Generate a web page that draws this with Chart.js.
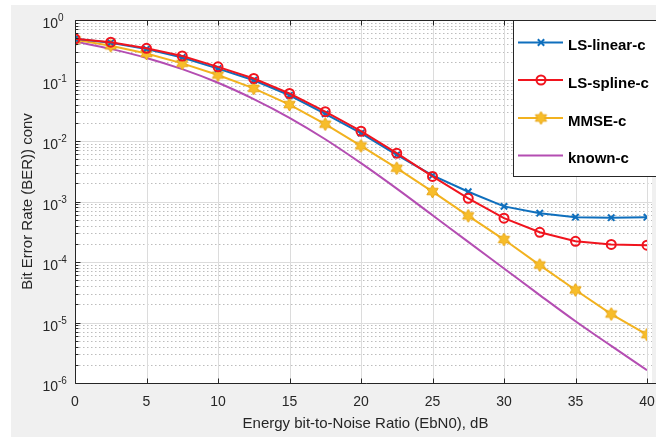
<!DOCTYPE html>
<html lang="en">
<head>
    <meta charset="UTF-8">
    <title>BER vs EbN0</title>
    <style>
        html, body {
            margin: 0;
            padding: 0;
            background-color: #fff;
            overflow: hidden;
        }
        canvas {
            display: block;
        }
    </style>
    <script src="https://cdn.jsdelivr.net/npm/chart.js"></script>
</head>
<body>
    <canvas id="berChart" width="656" height="437"></canvas>
    <script>
        // x axis: Eb/N0 in dB (markers every 2.5 dB)
        const snrDb = [0, 2.5, 5, 7.5, 10, 12.5, 15, 17.5, 20, 22.5, 25, 27.5, 30, 32.5, 35, 37.5, 40];

        const lsLinear = [0.49, 0.42, 0.33, 0.24, 0.157, 0.101, 0.057, 0.028, 0.0135, 0.0059, 0.0027,
            0.00145, 0.00083, 0.00064, 0.00055, 0.00054, 0.00055];
        const lsSpline = [0.49, 0.43, 0.34, 0.254, 0.168, 0.108, 0.061, 0.0305, 0.0145, 0.0063, 0.0026,
            0.00113, 0.00053, 0.00031, 0.00022, 0.000195, 0.00019];
        const mmse = [0.47, 0.375, 0.28, 0.192, 0.123, 0.074, 0.040, 0.019, 0.0083, 0.00355, 0.00146,
            0.00058, 0.000235, 0.000089, 0.0000345, 0.0000138, 0.0000063];
        const known = [0.44, 0.333, 0.236, 0.154, 0.0918, 0.0493, 0.0242, 0.0107, 0.0043, 0.00163, 0.000593,
            0.000215, 0.0000782, 0.0000284, 0.0000105, 0.0000041, 0.00000163];

        const seriesNames = ['LS-linear-c', 'LS-spline-c', 'MMSE-c', 'known-c'];
        const xTicks = [0, 5, 10, 15, 20, 25, 30, 35, 40];
        const yExponents = [0, -1, -2, -3, -4, -5, -6];

        const xTitle = 'Energy bit-to-Noise Ratio (EbN0), dB';
        const yTitle = 'Bit Error Rate (BER)) conv';

        const FONT = '"Liberation Sans", Arial, sans-serif';
        const TEXT = '#262626';

        // filled hexagram marker like matlab 'h'
        function hexagram(size, fill, stroke) {
            const c = document.createElement('canvas');
            c.width = size; c.height = size;
            const g = c.getContext('2d');
            const cx = size / 2, cy = size / 2, ro = size / 2 - 1, ri = ro * 0.577;
            g.beginPath();
            for (let i = 0; i < 12; i++) {
                const r = i % 2 === 0 ? ro : ri;
                const a = -Math.PI / 2 + i * Math.PI / 6;
                const px = cx + r * Math.cos(a), py = cy + r * Math.sin(a);
                if (i === 0) g.moveTo(px, py); else g.lineTo(px, py);
            }
            g.closePath();
            g.fillStyle = fill;
            g.fill();
            g.lineWidth = 1;
            g.strokeStyle = stroke;
            g.stroke();
            return c;
        }
        const starImg = hexagram(15, '#f7bd2a', '#e9a617');

        function pairs(ys) {
            return snrDb.map((x, i) => ({ x: x, y: ys[i] }));
        }

        const datasets = [
            {
                label: seriesNames[0], data: pairs(lsLinear), order: 1,
                borderColor: '#0f6fbd', backgroundColor: '#0f6fbd', borderWidth: 2,
                pointStyle: 'crossRot', pointRadius: 4.5, pointBorderWidth: 2
            },
            {
                label: seriesNames[1], data: pairs(lsSpline), order: 0,
                borderColor: '#f0141e', backgroundColor: 'rgba(0,0,0,0)', borderWidth: 2,
                pointStyle: 'circle', pointRadius: 4.5, pointBorderWidth: 2
            },
            {
                label: seriesNames[2], data: pairs(mmse), order: 2,
                borderColor: '#f2b21f', backgroundColor: '#f2b21f', borderWidth: 2,
                pointStyle: starImg, pointRadius: 7
            },
            {
                label: seriesNames[3], data: pairs(known), order: 3,
                borderColor: '#b44db2', backgroundColor: '#b44db2', borderWidth: 2,
                pointRadius: 0, cubicInterpolationMode: 'monotone'
            }
        ];

        const background = {
            id: 'background',
            beforeDraw(chart) {
                const ctx = chart.ctx, a = chart.chartArea;
                ctx.save();
                ctx.fillStyle = '#fff';
                ctx.fillRect(0, 0, chart.width, chart.height);
                ctx.fillStyle = '#f0f0f0';
                ctx.fillRect(11, 5, chart.width - 11, chart.height - 5);
                ctx.fillStyle = '#fff';
                ctx.fillRect(a.left, a.top, a.right - a.left + 5, a.bottom - a.top);
                ctx.restore();
            }
        };

        const gridAndAxes = {
            id: 'gridAndAxes',
            beforeDatasetsDraw(chart) {
                const ctx = chart.ctx, a = chart.chartArea;
                const xs = chart.scales.x, ys = chart.scales.y;
                ctx.save();
                // minor y grid (dotted)
                ctx.strokeStyle = '#bdbdbd';
                ctx.lineWidth = 1;
                ctx.setLineDash([1.5, 2.5]);
                for (let e = -6; e < 0; e++) {
                    for (let k = 2; k <= 9; k++) {
                        const py = Math.round(ys.getPixelForValue(k * Math.pow(10, e))) + 0.5;
                        ctx.beginPath();
                        ctx.moveTo(a.left, py);
                        ctx.lineTo(a.right + 5, py);
                        ctx.stroke();
                    }
                }
                // major grid
                ctx.setLineDash([]);
                ctx.strokeStyle = '#dcdcdc';
                yExponents.forEach(e => {
                    const py = Math.round(ys.getPixelForValue(Math.pow(10, e))) + 0.5;
                    ctx.beginPath();
                    ctx.moveTo(a.left, py);
                    ctx.lineTo(a.right + 5, py);
                    ctx.stroke();
                });
                xTicks.forEach(v => {
                    const px = Math.round(xs.getPixelForValue(v)) + 0.5;
                    ctx.beginPath();
                    ctx.moveTo(px, a.top);
                    ctx.lineTo(px, a.bottom);
                    ctx.stroke();
                });
                ctx.restore();
            },
            afterDatasetsDraw(chart) {
                const ctx = chart.ctx, a = chart.chartArea;
                const xs = chart.scales.x, ys = chart.scales.y;
                ctx.save();
                ctx.strokeStyle = '#262626';
                ctx.lineWidth = 1;
                const L = Math.round(a.left) + 0.5, T = Math.round(a.top) + 0.5, B = Math.round(a.bottom) + 0.5;
                ctx.beginPath();
                ctx.moveTo(L, T); ctx.lineTo(chart.width + 2, T);
                ctx.moveTo(L, T); ctx.lineTo(L, B);
                ctx.lineTo(chart.width + 2, B);
                ctx.stroke();
                // tick marks (inside)
                ctx.beginPath();
                xTicks.forEach(v => {
                    const px = Math.round(xs.getPixelForValue(v)) + 0.5;
                    ctx.moveTo(px, B); ctx.lineTo(px, B - 5);
                    ctx.moveTo(px, T); ctx.lineTo(px, T + 5);
                });
                yExponents.forEach(e => {
                    const py = Math.round(ys.getPixelForValue(Math.pow(10, e))) + 0.5;
                    ctx.moveTo(L, py); ctx.lineTo(L + 5, py);
                });
                for (let e = -6; e < 0; e++) {
                    for (let k = 2; k <= 9; k++) {
                        const py = Math.round(ys.getPixelForValue(k * Math.pow(10, e))) + 0.5;
                        ctx.moveTo(L, py); ctx.lineTo(L + 3, py);
                    }
                }
                ctx.stroke();

                // tick labels
                ctx.fillStyle = TEXT;
                ctx.font = '14px ' + FONT;
                ctx.textAlign = 'center';
                ctx.textBaseline = 'alphabetic';
                xTicks.forEach(v => {
                    ctx.fillText(String(v), xs.getPixelForValue(v), 406);
                });
                yExponents.forEach(e => {
                    const py = ys.getPixelForValue(Math.pow(10, e));
                    ctx.font = '14px ' + FONT;
                    ctx.textAlign = 'right';
                    ctx.fillText('10', 58, py + 8);
                    ctx.font = '10px ' + FONT;
                    ctx.textAlign = 'left';
                    ctx.fillText(String(e), 58, py + 1);
                });

                // axis titles
                ctx.font = '15px ' + FONT;
                ctx.textAlign = 'center';
                ctx.fillText(xTitle, (a.left + 656) / 2, 428);
                ctx.translate(32, (a.top + a.bottom) / 2);
                ctx.rotate(-Math.PI / 2);
                ctx.fillText(yTitle, 0, 0);
                ctx.restore();
            }
        };

        const boxLegend = {
            id: 'boxLegend',
            afterDraw(chart) {
                const ctx = chart.ctx;
                const bx = 513, by = 20, bh = 156;
                ctx.save();
                ctx.fillStyle = '#fff';
                ctx.fillRect(bx, by, chart.width - bx + 5, bh);
                ctx.strokeStyle = '#262626';
                ctx.lineWidth = 1;
                ctx.strokeRect(bx + 0.5, by + 0.5, chart.width, bh);
                const rows = [42.5, 80, 118, 155.5];
                chart.data.datasets.forEach((ds, i) => {
                    const y = rows[i];
                    ctx.strokeStyle = ds.borderColor;
                    ctx.lineWidth = 2;
                    ctx.beginPath();
                    ctx.moveTo(518, y); ctx.lineTo(563, y);
                    ctx.stroke();
                    if (ds.pointRadius > 0) {
                        ctx.fillStyle = ds.backgroundColor;
                        ctx.strokeStyle = ds.borderColor;
                        ctx.lineWidth = ds.pointBorderWidth || 1;
                        Chart.helpers.drawPoint(ctx, {
                            pointStyle: ds.pointStyle,
                            radius: ds.pointRadius,
                            borderWidth: ds.pointBorderWidth || 1,
                            rotation: 0
                        }, 541, y);
                    }
                    ctx.fillStyle = '#000';
                    ctx.font = 'bold 15px ' + FONT;
                    ctx.textAlign = 'left';
                    ctx.textBaseline = 'alphabetic';
                    ctx.fillText(ds.label, 568, y + 7.5);
                });
                ctx.restore();
            }
        };

        new Chart(document.getElementById('berChart').getContext('2d'), {
            type: 'line',
            data: { datasets: datasets },
            options: {
                responsive: false,
                animation: false,
                devicePixelRatio: 1,
                layout: { padding: { left: 75, top: 20, right: 1, bottom: 54 } },
                plugins: {
                    legend: { display: false },
                    tooltip: { enabled: false }
                },
                scales: {
                    x: { type: 'linear', min: 0, max: 40, display: false },
                    y: { type: 'logarithmic', min: 1e-6, max: 1, display: false }
                }
            },
            plugins: [background, gridAndAxes, boxLegend]
        });
    </script>
</body>
</html>
